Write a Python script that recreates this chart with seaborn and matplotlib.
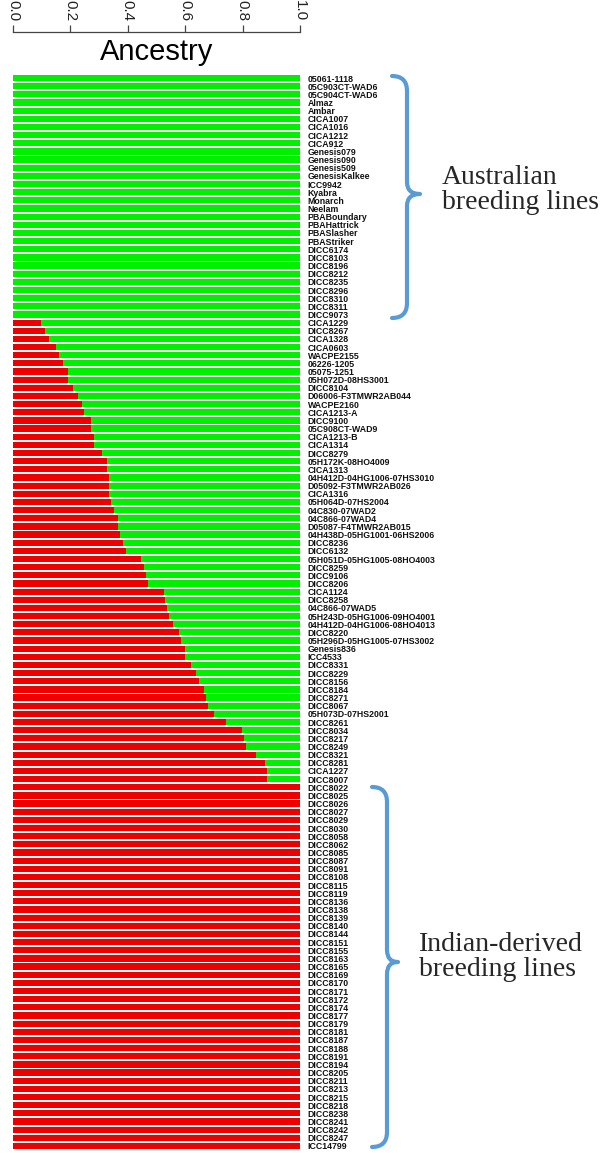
import matplotlib
matplotlib.use("Agg")
import matplotlib.pyplot as plt
from matplotlib.path import Path
from matplotlib.patches import PathPatch
import seaborn as sns
import pandas as pd

# ---------------- data ----------------
australian = ["05061-1118", "05C903CT-WAD6", "05C904CT-WAD6", "Almaz", "Ambar",
              "CICA1007", "CICA1016", "CICA1212", "CICA912", "Genesis079",
              "Genesis090", "Genesis509", "GenesisKalkee", "ICC9942", "Kyabra",
              "Monarch", "Neelam", "PBABoundary", "PBAHattrick", "PBASlasher",
              "PBAStriker", "DICC6174", "DICC8103", "DICC8196", "DICC8212",
              "DICC8235", "DICC8296", "DICC8310", "DICC8311", "DICC9073"]
australian_red = [0.0] * 30

admixed = ["CICA1229", "DICC8267", "CICA1328", "CICA0603", "WACPE2155",
           "06226-1205", "05075-1251", "05H072D-08HS3001", "DICC8104",
           "D06006-F3TMWR2AB044", "WACPE2160", "CICA1213-A", "DICC9100",
           "05C908CT-WAD9", "CICA1213-B", "CICA1314", "DICC8279",
           "05H172K-08HO4009", "CICA1313", "04H412D-04HG1006-07HS3010",
           "D05092-F3TMWR2AB026", "CICA1316", "05H064D-07HS2004",
           "04C830-07WAD2", "04C866-07WAD4", "D05087-F4TMWR2AB015",
           "04H438D-05HG1001-06HS2006", "DICC8236", "DICC6132",
           "05H051D-05HG1005-08HO4003", "DICC8259", "DICC9106", "DICC8206",
           "CICA1124", "DICC8258", "04C866-07WAD5",
           "05H243D-05HG1006-09HO4001", "04H412D-04HG1006-08HO4013",
           "DICC8220", "05H296D-05HG1005-07HS3002", "Genesis836", "ICC4533",
           "DICC8331", "DICC8229", "DICC8156", "DICC8184", "DICC8271",
           "DICC8067", "05H073D-07HS2001", "DICC8261", "DICC8034", "DICC8217",
           "DICC8249", "DICC8321", "DICC8281", "CICA1227", "DICC8007"]
admixed_red = [0.099, 0.110, 0.126, 0.151, 0.159, 0.173, 0.191, 0.191, 0.208,
               0.228, 0.242, 0.248, 0.271, 0.273, 0.281, 0.281, 0.309, 0.326,
               0.329, 0.333, 0.333, 0.335, 0.343, 0.352, 0.366, 0.366, 0.374,
               0.384, 0.392, 0.447, 0.455, 0.465, 0.471, 0.526, 0.531, 0.535,
               0.543, 0.556, 0.578, 0.585, 0.601, 0.601, 0.621, 0.638, 0.649,
               0.664, 0.674, 0.680, 0.700, 0.743, 0.797, 0.806, 0.812, 0.845,
               0.879, 0.884, 0.884]

indian = ["DICC8022", "DICC8025", "DICC8026", "DICC8027", "DICC8029",
          "DICC8030", "DICC8058", "DICC8062", "DICC8085", "DICC8087",
          "DICC8091", "DICC8108", "DICC8115", "DICC8119", "DICC8136",
          "DICC8138", "DICC8139", "DICC8140", "DICC8144", "DICC8151",
          "DICC8155", "DICC8163", "DICC8165", "DICC8169", "DICC8170",
          "DICC8171", "DICC8172", "DICC8174", "DICC8177", "DICC8179",
          "DICC8181", "DICC8187", "DICC8188", "DICC8191", "DICC8194",
          "DICC8205", "DICC8211", "DICC8213", "DICC8215", "DICC8218",
          "DICC8238", "DICC8241", "DICC8242", "DICC8247", "ICC14799"]
indian_red = [1.0] * 45

x_ticks = [0.0, 0.2, 0.4, 0.6, 0.8, 1.0]
x_tick_labels = ["0.0", "0.2", "0.4", "0.6", "0.8", "1.0"]

lines = australian + admixed + indian
red_frac = australian_red + admixed_red + indian_red
df = pd.DataFrame({"line": lines, "indian": red_frac})
df["total"] = 1.0  # Australian component fills the remainder up to 1

# ---------------- figure ----------------
W, H = 603, 1153
sns.set_style("white")
plt.rcParams["font.family"] = ["Liberation Sans", "DejaVu Sans"]

fig = plt.figure(figsize=(W / 100, H / 100), dpi=100)
ax = fig.add_axes([13 / W, 1 - 1150 / H, 287 / W, (1150 - 74) / H])

GREEN = "#00F000"
RED = "#EE0000"
sns.barplot(data=df, x="total", y="line", color=GREEN, width=0.76,
            saturation=1, edgecolor="none", linewidth=0, ax=ax, orient="h")
sns.barplot(data=df, x="indian", y="line", color=RED, width=0.76,
            saturation=1, edgecolor="none", linewidth=0, ax=ax, orient="h")

ax.set_xlim(0, 1)
ax.set_ylim(len(lines) - 0.5, -0.5)
ax.set_xlabel("")
ax.set_ylabel("")

# top axis
ax.xaxis.tick_top()
ax.set_xticks(x_ticks)
ax.set_xticklabels(x_tick_labels)
ax.tick_params(axis="x", direction="out", length=5, width=0.9,
               color="#444444", pad=3, top=True, bottom=False,
               labeltop=True, labelbottom=False, labelrotation=-90,
               labelsize=11, labelcolor="#222222")
for s in ["left", "right", "bottom"]:
    ax.spines[s].set_visible(False)
ax.spines["top"].set_position(("outward", 30))
ax.spines["top"].set_color("#444444")
ax.spines["top"].set_linewidth(0.9)

# right labels
ax.yaxis.tick_right()
ax.tick_params(axis="y", length=0, pad=5.5, right=False, left=False)
for t in ax.get_yticklabels():
    t.set_fontsize(6.3)
    t.set_fontweight("bold")
    t.set_color("#111111")

fig.text(157 / W, 1 - 52 / H, "Ancestry", ha="center", va="center",
         fontsize=21, color="black")


# ---------------- braces ----------------
def px(x, y):
    return (x / W, 1 - y / H)


def brace(x_end, xv, ytop, ybot, xtip, ytip, r=15, r2=12):
    verts = [px(x_end, ytop), px(xv, ytop), px(xv, ytop + r),
             px(xv, ytip - r2), px(xv, ytip), px(xtip, ytip),
             px(xv, ytip), px(xv, ytip + r2),
             px(xv, ybot - r), px(xv, ybot), px(x_end, ybot)]
    codes = [Path.MOVETO, Path.CURVE3, Path.CURVE3,
             Path.LINETO, Path.CURVE3, Path.CURVE3,
             Path.CURVE3, Path.CURVE3,
             Path.LINETO, Path.CURVE3, Path.CURVE3]
    patch = PathPatch(Path(verts, codes), transform=fig.transFigure,
                      facecolor="none", edgecolor="#5B9BD5", linewidth=3,
                      capstyle="round", joinstyle="round")
    fig.patches.append(patch)


brace(392, 407, 76, 318, 420, 194)
brace(372, 387, 787, 1147, 398, 962)

serif = ["Liberation Serif", "DejaVu Serif"]
fig.text(442 / W, 1 - 190 / H, "Australian\nbreeding lines", ha="left",
         va="center", fontsize=20, family=serif, linespacing=1.0)
fig.text(419 / W, 1 - 957 / H, "Indian-derived\nbreeding lines", ha="left",
         va="center", fontsize=20, family=serif, linespacing=1.0)

fig.savefig("out.png", dpi=100)
